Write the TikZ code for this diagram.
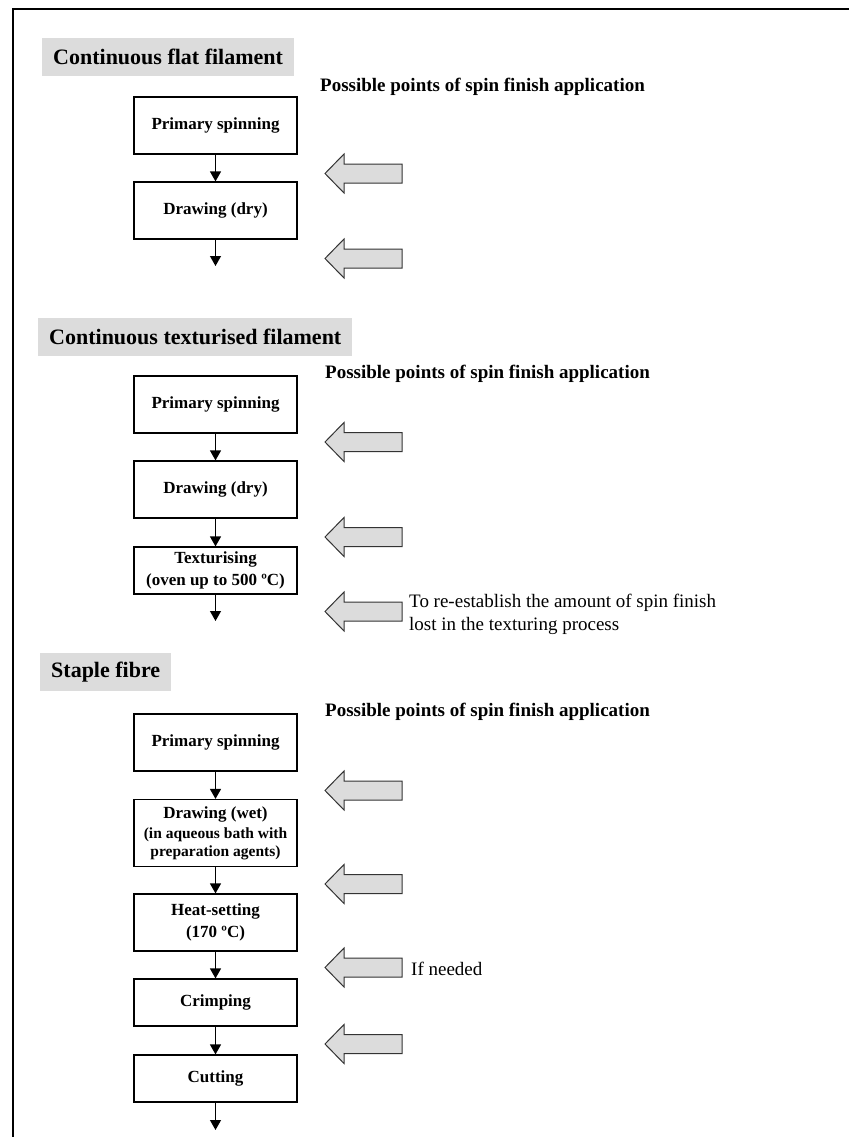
\documentclass[tikz,border=0pt]{standalone}
\usepackage{fontspec}
\setmainfont{Liberation Serif}
\usetikzlibrary{arrows.meta}
\definecolor{hdrgray}{HTML}{DCDCDC}
\definecolor{arrgray}{HTML}{DCDCDC}
\definecolor{arredge}{HTML}{333333}
\begin{document}
\begin{tikzpicture}[x=1pt,y=-1pt,
  procbox/.style={draw, line width=1.2pt, minimum width=163pt, align=center, inner sep=2pt, font=\fontsize{17}{22}\selectfont\bfseries},
  hdr/.style={fill=hdrgray, anchor=west, inner xsep=11pt, inner ysep=0pt, minimum height=38pt, font=\fontsize{22}{26}\selectfont\bfseries},
  ppt/.style={anchor=base west, inner sep=0pt, font=\fontsize{19}{22}\selectfont\bfseries},
  note/.style={anchor=west, inner sep=0pt, align=left, font=\fontsize{19}{22.5}\selectfont},
  flow/.style={line width=1.2pt, -{Triangle[length=10pt,width=11pt]}},
  finarr/.style={fill=arrgray, draw=arredge, line width=1pt, line join=miter}
]
\useasboundingbox (0,0) rectangle (849,1137);
\draw[line width=2.2pt] (13,1137) -- (13,9) -- (849,9);

% ---------- Section 1 ----------
\node[hdr] (h1) at (42,57) {Continuous flat filament};
\node[ppt] (p1) at (320,92) {Possible points of spin finish application};
\node[procbox, minimum height=57pt] (a1) at (215.5,125.5) {Primary spinning};
\node[procbox, minimum height=57pt] (a2) at (215.5,210.5) {Drawing (dry)};
\coordinate (a3) at (215.5,266);
\draw[flow] (a1) -- (a2);
\draw[flow] (a2) -- (a3);

% ---------- Section 2 ----------
\node[hdr] (h2) at (38,336.5) {Continuous texturised filament};
\node[ppt] (p2) at (325,378) {Possible points of spin finish application};
\node[procbox, minimum height=57pt] (b1) at (215.5,404.5) {Primary spinning};
\node[procbox, minimum height=57pt] (b2) at (215.5,489.5) {Drawing (dry)};
\node[procbox, minimum height=47pt] (b3) at (215.5,570.5) {Texturising\\(oven up to 500 ºC)};
\coordinate (b4) at (215.5,621);
\draw[flow] (b1) -- (b2);
\draw[flow] (b2) -- (b3);
\draw[flow] (b3) -- (b4);
\node[note] (n1) at (409,614.5) {To re-establish the amount of spin finish\\lost in the texturing process};

% ---------- Section 3 ----------
\node[hdr] (h3) at (40,672) {Staple fibre};
\node[ppt] (p3) at (325,716) {Possible points of spin finish application};
\node[procbox, minimum height=57pt] (c1) at (215.5,742.5) {Primary spinning};
\node[procbox, minimum height=67pt] (c2) at (215.5,833) {Drawing (wet)\\[-2pt]\fontsize{15.5}{18}\selectfont(in aqueous bath with\\[-4pt]\fontsize{15.5}{18}\selectfont preparation agents)};
\node[procbox, minimum height=57pt] (c3) at (215.5,922.5) {Heat-setting\\(170 ºC)};
\node[procbox, minimum height=47pt] (c4) at (215.5,1002.5) {Crimping};
\node[procbox, minimum height=47pt] (c5) at (215.5,1078.5) {Cutting};
\coordinate (c6) at (215.5,1130);
\draw[flow] (c1) -- (c2);
\draw[flow] (c2) -- (c3);
\draw[flow] (c3) -- (c4);
\draw[flow] (c4) -- (c5);
\draw[flow] (c5) -- (c6);
\node[note, anchor=base west] (n2) at (411,975) {If needed};

% ---------- Spin finish application arrows ----------
\foreach \yy in {173.5,258.5,442,537,611.5,790.5,884,967.5,1044} {
  \draw[finarr] (325,\yy) -- (344,{\yy-19.5}) -- (344,{\yy-9.5}) -- (402,{\yy-9.5})
    -- (402,{\yy+9.5}) -- (344,{\yy+9.5}) -- (344,{\yy+19.5}) -- cycle;
}
\end{tikzpicture}
\end{document}
